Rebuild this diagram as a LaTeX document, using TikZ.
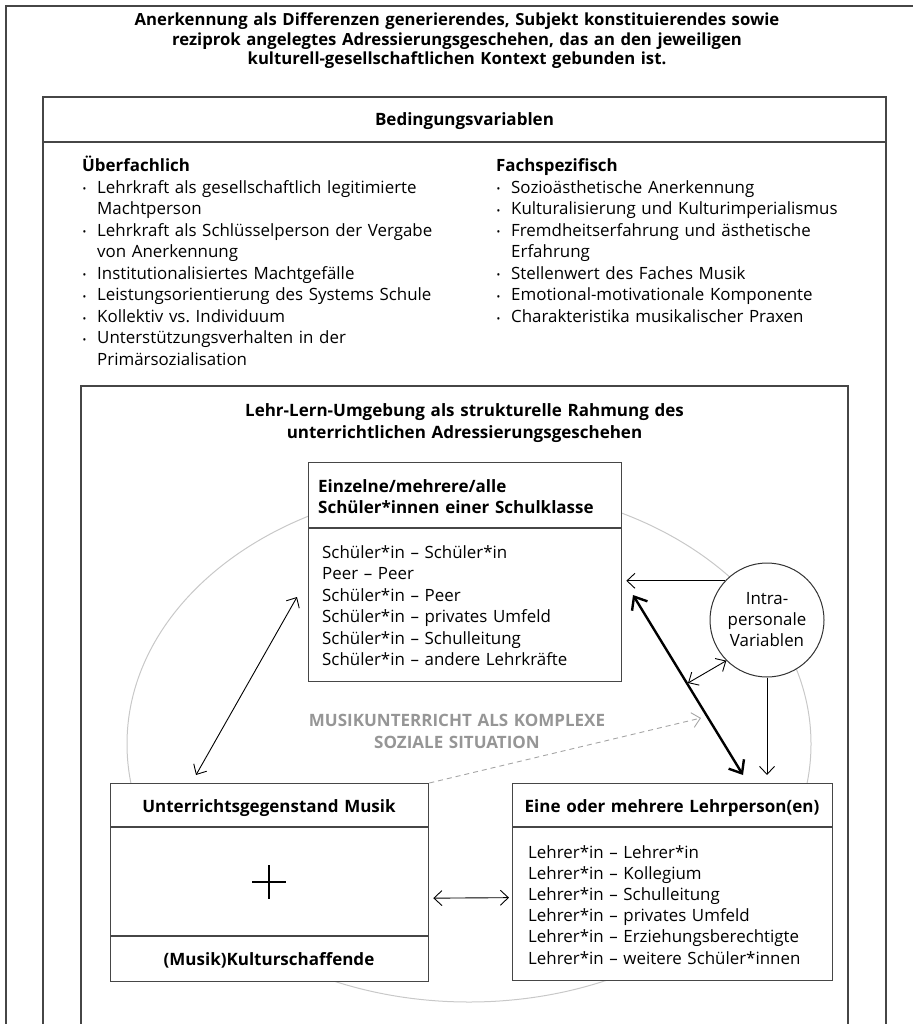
\documentclass[tikz,border=0pt]{standalone}
\usepackage{fontspec}
\setmainfont{Open Sans}
\frenchspacing
\usetikzlibrary{arrows.meta,calc}
\newcommand{\bitem}[1]{\par\noindent\makebox[15pt][l]{\hspace{0.5pt}\raisebox{0.5pt}{\fontsize{10}{10}\selectfont\textbullet}}#1}
\newcommand{\bcont}[1]{\par\noindent\hspace*{15pt}#1}
\definecolor{framec}{RGB}{70,70,70}
\definecolor{ellc}{RGB}{200,200,200}
\definecolor{grayt}{RGB}{150,150,150}
\definecolor{dashc}{RGB}{165,165,165}
\tikzset{
  frame/.style={draw=framec, line width=1.3pt},
  box/.style={draw=framec, line width=1.3pt, fill=white, rectangle, inner sep=0pt},
  hdc/.style={inner sep=0pt, text width=760pt, align=center, font=\fontsize{17}{19.5}\selectfont\bfseries},
  hdl/.style={inner sep=0pt, text width=320pt, align=left, font=\fontsize{17}{21}\selectfont\bfseries},
  col/.style={inner sep=0pt, text width=390pt, align=left, font=\fontsize{16.9}{21.5}\selectfont},
  thinarr/.style={draw=black, line width=0.9pt, arrows={-Straight Barb[length=8pt,width=15pt]}},
  dblarr/.style={draw=black, line width=0.9pt, arrows={Straight Barb[length=8pt,width=15pt]-Straight Barb[length=8pt,width=15pt]}},
  thickarr/.style={draw=black, line width=2.4pt, arrows={Straight Barb[length=11pt,width=18pt]-Straight Barb[length=11pt,width=18pt]}},
  dasharr/.style={draw=dashc, line width=0.9pt, dash pattern=on 5pt off 4pt, arrows={-Straight Barb[length=8pt,width=15pt]}},
}
\begin{document}
\begin{tikzpicture}[x=1pt,y=-1pt]
\useasboundingbox (0,0) rectangle (913,1024);
% frames
\draw[frame] (6,1024) -- (6,6) -- (913,6);
\draw[frame] (43,1024) -- (43,97) -- (886,97) -- (886,1024);
\draw[frame] (43,142) -- (886,142);
\draw[frame] (81,1024) -- (81,386) -- (848,386) -- (848,1024);
% texts top
\node[hdc, anchor=base, font=\fontsize{16.7}{19.5}\selectfont\bfseries] (title) at (457,26) {Anerkennung als Differenzen generierendes, Subjekt konstituierendes sowie\\reziprok angelegtes Adressierungsgeschehen, das an den jeweiligen\\kulturell-gesellschaftlichen Kontext gebunden ist.};
\node[hdc, anchor=base] (bv) at (464.5,126) {Bedingungsvariablen};
\node[col, anchor=base west] (ueber) at (82,172) {\textbf{Überfachlich}
\bitem{Lehrkraft als gesellschaftlich legitimierte}
\bcont{Machtperson}
\bitem{Lehrkraft als Schlüsselperson der Vergabe}
\bcont{von Anerkennung}
\bitem{Institutionalisiertes Machtgefälle}
\bitem{Leistungsorientierung des Systems Schule}
\bitem{Kollektiv vs. Individuum}
\bitem{Unterstützungsverhalten in der}
\bcont{Primärsozialisation}};
\node[col, anchor=base west] (fach) at (496,172) {\textbf{Fachspezifisch}
\bitem{Sozioästhetische Anerkennung}
\bitem{Kulturalisierung und Kulturimperialismus}
\bitem{Fremdheitserfahrung und ästhetische}
\bcont{Erfahrung}
\bitem{Stellenwert des Faches Musik}
\bitem{Emotional-motivationale Komponente}
\bitem{Charakteristika musikalischer Praxen}};
\node[hdc, anchor=base, font=\fontsize{17}{22}\selectfont\bfseries] (ll) at (464.5,416) {Lehr-Lern-Umgebung als strukturelle Rahmung des\\unterrichtlichen Adressierungsgeschehen};
% big gray ellipse
\draw[draw=ellc, line width=1pt] (469,744) ellipse [x radius=342pt, y radius=258pt];
% boxes
\node[box, anchor=north west, minimum width=313pt, minimum height=219pt] (einz) at (308,462) {};
\draw[frame] (einz.west |- 0,528) -- (einz.east |- 0,528);
\node[box, anchor=north west, minimum width=318pt, minimum height=198pt] (unt) at (110,783) {};
\draw[frame] (unt.west |- 0,827) -- (unt.east |- 0,827);
\draw[frame] (unt.west |- 0,936) -- (unt.east |- 0,936);
\node[box, anchor=north west, minimum width=320pt, minimum height=197pt] (lehr) at (512,783) {};
\draw[frame] (lehr.west |- 0,827) -- (lehr.east |- 0,827);
\node[circle, draw=black!80, line width=1pt, fill=white, minimum size=114pt, inner sep=0pt, align=center, font=\fontsize{16.9}{21}\selectfont] (intra) at (767,620) {Intra-\\personale\\Variablen};
% box texts
\node[hdl, anchor=base west] (einzh) at (318,492) {Einzelne/mehrere/alle\\Schüler*innen einer Schulklasse};
\node[col, anchor=base west, text width=290pt] (einzb) at (322,558) {Schüler*in – Schüler*in\\Peer – Peer\\Schüler*in – Peer\\Schüler*in – privates Umfeld\\Schüler*in – Schulleitung\\Schüler*in – andere Lehrkräfte};
\node[hdc, anchor=base, text width=316pt] (unth) at (269,812) {Unterrichtsgegenstand Musik};
\node[hdc, anchor=base, text width=316pt] (kult) at (269,965) {(Musik)Kulturschaffende};
\node[hdc, anchor=base, text width=318pt] (lehrh) at (672,812) {Eine oder mehrere Lehrperson(en)};
\node[col, anchor=base west, text width=300pt, font=\fontsize{16.9}{21.2}\selectfont] (lehrb) at (528,858) {Lehrer*in – Lehrer*in\\Lehrer*in – Kollegium\\Lehrer*in – Schulleitung\\Lehrer*in – privates Umfeld\\Lehrer*in – Erziehungsberechtigte\\Lehrer*in – weitere Schüler*innen};
\node[hdc, anchor=center, text width=420pt, text=grayt, font=\fontsize{17}{22}\selectfont\bfseries] (mus) at (457,731) {MUSIKUNTERRICHT ALS KOMPLEXE\\SOZIALE SITUATION};
% plus sign
\coordinate (plus) at (269,882);
\draw[line width=1.3pt] ($(plus)+(-17,0)$) -- ($(plus)+(17,0)$);
\draw[line width=1.3pt] ($(plus)+(0,-17)$) -- ($(plus)+(0,17)$);
% connectors
\coordinate (a1s) at (297,597);
\coordinate (a1e) at (196,775);
\draw[dblarr] (a1s) -- (a1e);
\draw[thinarr] (intra.137) -- ($(einz.east |- intra.137)+(4,0)$);
\coordinate (a3s) at (633,595);
\coordinate (a3e) at (743,775);
\draw[thickarr] (a3s) -- (a3e);
\coordinate (a4s) at (688,683);
\draw[dblarr] (a4s) -- (intra.225);
\draw[thinarr] (intra.south) -- ($(intra.south |- lehr.north)+(0,-8)$);
\coordinate (a6e) at (701,718);
\draw[dasharr] (unt.north east) -- (a6e);
\draw[dblarr] ($(unt.east)+(4,15.5)$) -- ($(lehr.west)+(-3,15.5)$);
\end{tikzpicture}
\end{document}
